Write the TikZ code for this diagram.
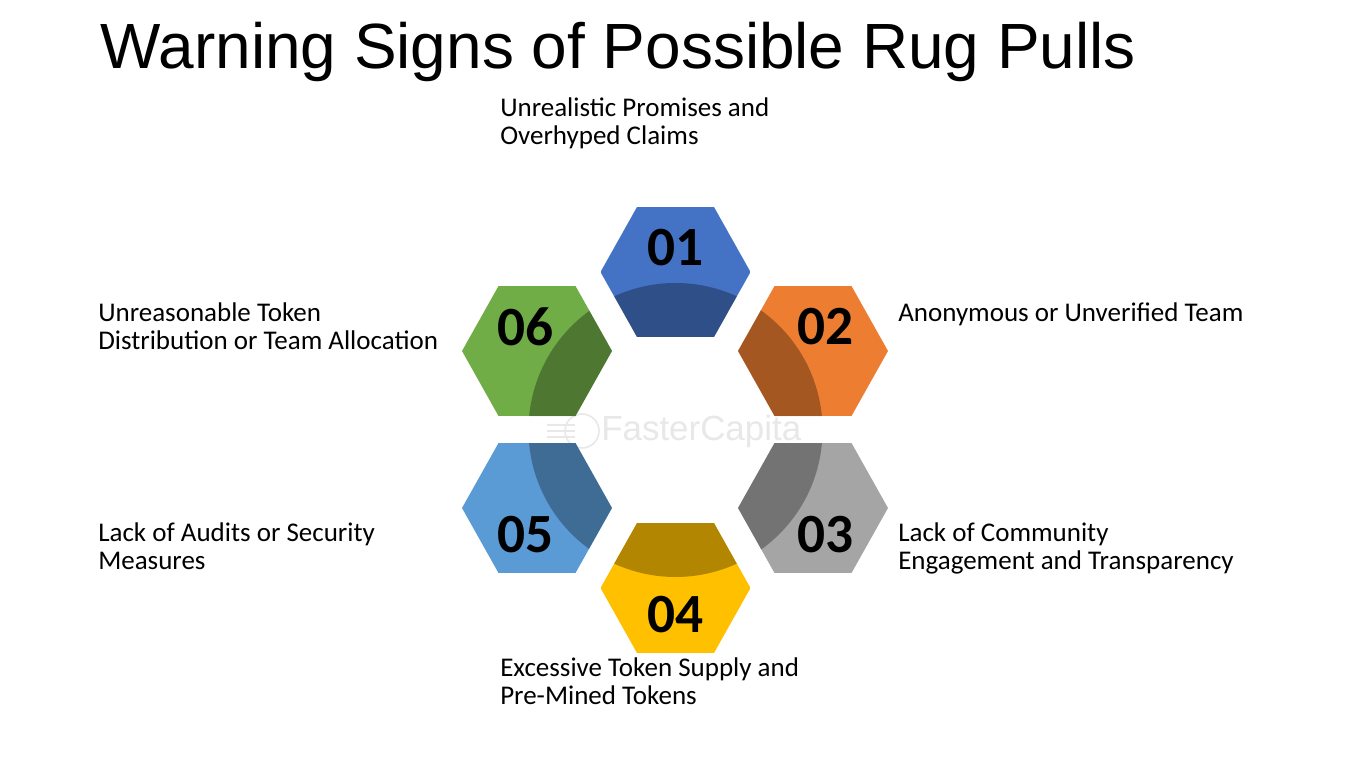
\documentclass[tikz,border=0pt]{standalone}
\usepackage{fontspec}
\setmainfont{Carlito}
\newfontfamily\titlefont{Liberation Sans}
\definecolor{hexblue}{HTML}{4472C4}
\definecolor{hexorange}{HTML}{ED7D31}
\definecolor{hexgray}{HTML}{A5A5A5}
\definecolor{hexgold}{HTML}{FFC000}
\definecolor{hexsky}{HTML}{5B9BD5}
\definecolor{hexgreen}{HTML}{70AD47}
\tikzset{
    warnlabel/.style={anchor=north west,align=left,inner sep=0pt,font=\fontsize{20.25}{21}\selectfont},
    hexnum/.style={font=\fontsize{41.5}{41.5}\selectfont\bfseries,inner sep=0pt},
    mark line/.style={draw=black!9,line width=1.2pt}
}
\begin{document}
\begin{tikzpicture}[x=.75pt,y=-.75pt]
            \useasboundingbox (0,0) rectangle (1350,759);
            \fill [white] (0,0) rectangle (1350,759);
            \node [anchor=base west,inner sep=0pt,font=\fontsize{47.95}{47.95}\selectfont\titlefont] (title) at (100.5,68.5) {Warning Signs of Possible Rug Pulls};
            % watermark
            \node [anchor=west,inner sep=0pt,text=black!9,font=\fontsize{26.2}{26.2}\selectfont\titlefont] (mark) at (601,431) {FasterCapita};
            \draw [mark line] (582,431) circle (17);
            \draw [mark line] (547,425) -- (575,425);
            \draw [mark line] (547,431) -- (575,431);
            \draw [mark line] (547,437) -- (575,437);
            % hexagons
            \foreach \cx/\cy/\hexcol/\num/\nx/\ny in {675.5/272/hexblue/01/675.5/247.5,813/351/hexorange/02/825.5/326.5,813/508/hexgray/03/825.5/534.5,675.5/588/hexgold/04/675.5/614.5,537/508/hexsky/05/525.5/534.5,537/351/hexgreen/06/525.5/326.5} {
                \begin{scope}
                    \path [clip] (\cx-75,\cy) -- (\cx-38.5,\cy-65) -- (\cx+38.5,\cy-65) -- (\cx+75,\cy) -- (\cx+38.5,\cy+65) -- (\cx-38.5,\cy+65) -- cycle;
                    \fill [\hexcol] (\cx-75,\cy-65) rectangle (\cx+75,\cy+65);
                    \fill [black,opacity=.3] (675.5,430) circle (147);
                \end{scope}
                \node [hexnum] (num\num) at (\nx,\ny) {\num};
            }
            % labels
            \node [warnlabel] (sign01) at (500,97) {Unrealistic Promises and\\Overhyped Claims};
            \node [warnlabel] (sign02) at (898,302) {Anonymous or Unverified Team};
            \node [warnlabel] (sign03) at (898,522) {Lack of Community\\Engagement and Transparency};
            \node [warnlabel] (sign04) at (500,657) {Excessive Token Supply and\\Pre-Mined Tokens};
            \node [warnlabel] (sign05) at (98,522) {Lack of Audits or Security\\Measures};
            \node [warnlabel] (sign06) at (98,302) {Unreasonable Token\\Distribution or Team Allocation};
        \end{tikzpicture}
\end{document}
